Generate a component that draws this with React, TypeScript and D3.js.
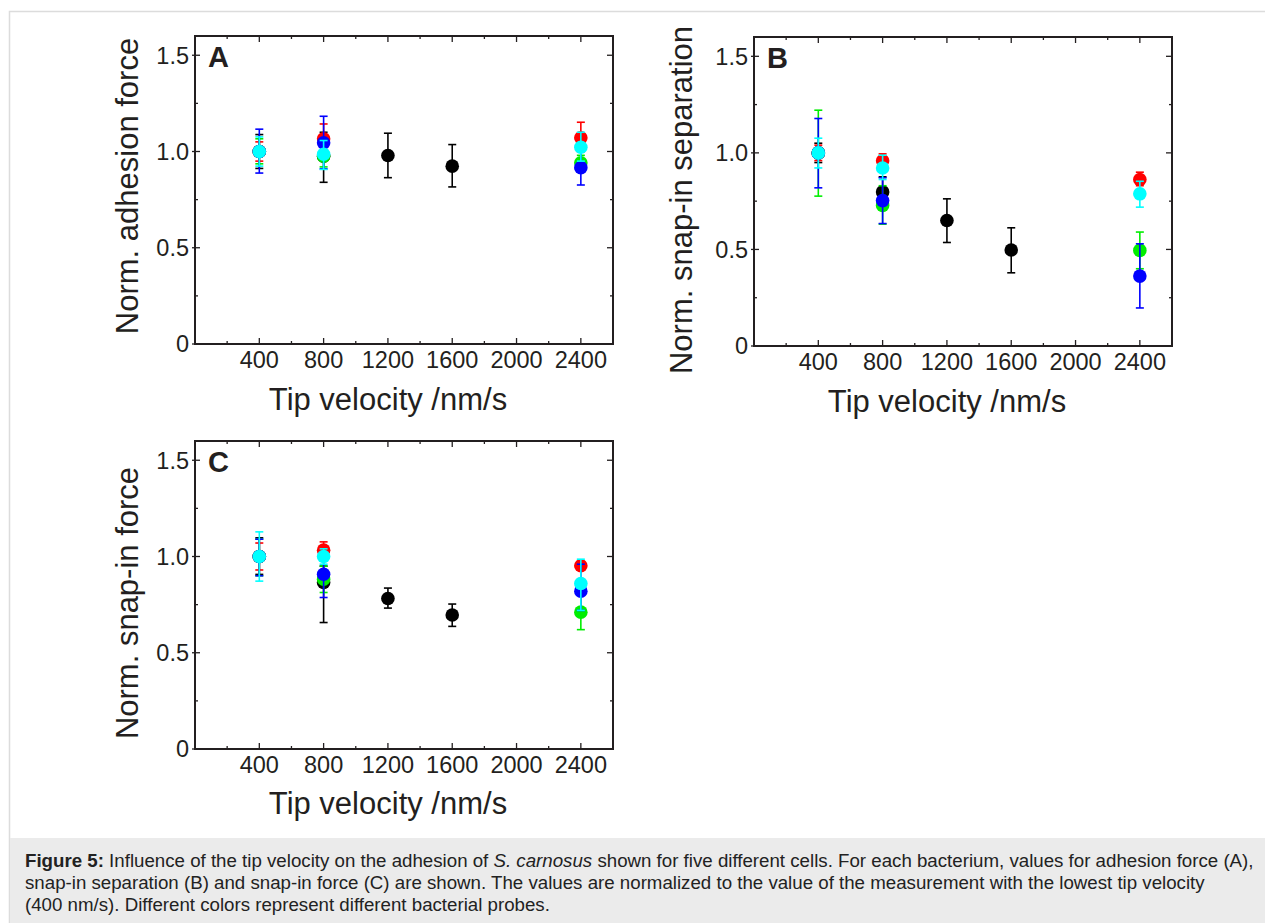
import React from "react";
import * as d3 from "d3";

type Pt = { v: number; y: number; lo: number; hi: number };

// ---------- data ----------
const xTicksMajor = [400, 800, 1200, 1600, 2000, 2400];
const xTicksMinor = [200, 600, 1000, 1400, 1800, 2200];
const yTicksMajor = [0, 0.5, 1.0, 1.5];
const yTicksMinor = [0.25, 0.75, 1.25];
const yTickLabels = ["0", "0.5", "1.0", "1.5"];

const seriesColors = ["#000000", "#00ee00", "#ff0000", "#0000ff", "#00ffff"];

// Panel A: adhesion force
const adhesionBlack: Pt[] = [
  { v: 400, y: 1.0, lo: 0.912, hi: 1.088 },
  { v: 800, y: 0.975, lo: 0.84, hi: 1.1 },
  { v: 1200, y: 0.979, lo: 0.864, hi: 1.095 },
  { v: 1600, y: 0.924, lo: 0.816, hi: 1.036 },
];
const adhesionGreen: Pt[] = [
  { v: 400, y: 1.0, lo: 0.936, hi: 1.066 },
  { v: 800, y: 0.976, lo: 0.92, hi: 1.03 },
  { v: 2400, y: 0.941, lo: 0.9, hi: 0.98 },
];
const adhesionRed: Pt[] = [
  { v: 400, y: 1.0, lo: 0.95, hi: 1.05 },
  { v: 800, y: 1.066, lo: 0.99, hi: 1.143 },
  { v: 2400, y: 1.071, lo: 1.0, hi: 1.152 },
];
const adhesionBlue: Pt[] = [
  { v: 400, y: 1.0, lo: 0.888, hi: 1.116 },
  { v: 800, y: 1.045, lo: 0.91, hi: 1.183 },
  { v: 2400, y: 0.916, lo: 0.826, hi: 1.0 },
];
const adhesionCyan: Pt[] = [
  { v: 400, y: 1.0, lo: 0.924, hi: 1.076 },
  { v: 800, y: 0.986, lo: 0.907, hi: 1.057 },
  { v: 2400, y: 1.022, lo: 0.95, hi: 1.1 },
];

// Panel B: snap-in separation
const separationBlack: Pt[] = [
  { v: 400, y: 1.0, lo: 0.95, hi: 1.05 },
  { v: 800, y: 0.798, lo: 0.72, hi: 0.876 },
  { v: 1200, y: 0.65, lo: 0.536, hi: 0.762 },
  { v: 1600, y: 0.497, lo: 0.379, hi: 0.612 },
];
const separationGreen: Pt[] = [
  { v: 400, y: 1.0, lo: 0.776, hi: 1.221 },
  { v: 800, y: 0.728, lo: 0.631, hi: 0.83 },
  { v: 2400, y: 0.495, lo: 0.4, hi: 0.59 },
];
const separationRed: Pt[] = [
  { v: 400, y: 1.0, lo: 0.96, hi: 1.04 },
  { v: 800, y: 0.959, lo: 0.92, hi: 0.995 },
  { v: 2400, y: 0.862, lo: 0.83, hi: 0.9 },
];
const separationBlue: Pt[] = [
  { v: 400, y: 1.0, lo: 0.819, hi: 1.178 },
  { v: 800, y: 0.753, lo: 0.634, hi: 0.871 },
  { v: 2400, y: 0.362, lo: 0.197, hi: 0.529 },
];
const separationCyan: Pt[] = [
  { v: 400, y: 1.0, lo: 0.922, hi: 1.076 },
  { v: 800, y: 0.922, lo: 0.862, hi: 0.988 },
  { v: 2400, y: 0.788, lo: 0.719, hi: 0.853 },
];

// Panel C: snap-in force
const snapForceBlack: Pt[] = [
  { v: 400, y: 1.0, lo: 0.907, hi: 1.097 },
  { v: 800, y: 0.865, lo: 0.657, hi: 0.95 },
  { v: 1200, y: 0.782, lo: 0.732, hi: 0.836 },
  { v: 1600, y: 0.696, lo: 0.637, hi: 0.753 },
];
const snapForceGreen: Pt[] = [
  { v: 400, y: 1.0, lo: 0.9, hi: 1.09 },
  { v: 800, y: 0.882, lo: 0.813, hi: 0.95 },
  { v: 2400, y: 0.711, lo: 0.62, hi: 0.8 },
];
const snapForceRed: Pt[] = [
  { v: 400, y: 1.0, lo: 0.93, hi: 1.07 },
  { v: 800, y: 1.033, lo: 0.99, hi: 1.076 },
  { v: 2400, y: 0.952, lo: 0.93, hi: 0.975 },
];
const snapForceBlue: Pt[] = [
  { v: 400, y: 1.0, lo: 0.9, hi: 1.09 },
  { v: 800, y: 0.908, lo: 0.787, hi: 0.98 },
  { v: 2400, y: 0.82, lo: 0.72, hi: 0.96 },
];
const snapForceCyan: Pt[] = [
  { v: 400, y: 1.0, lo: 0.872, hi: 1.128 },
  { v: 800, y: 1.0, lo: 0.96, hi: 1.04 },
  { v: 2400, y: 0.86, lo: 0.72, hi: 0.986 },
];

const FONT = "Arial, 'Liberation Sans', Helvetica, sans-serif";
const AXIS = "#231f20";

type PanelProps = {
  left: number;
  top: number;
  width: number;
  height: number;
  letter: string;
  yTitle: string;
  yTitleX: number;
  yTitleY: number;
  xTitleX: number;
  xTitleY: number;
  series: Pt[][];
};

function Panel(p: PanelProps) {
  const x = d3.scaleLinear().domain([0, 2600]).range([p.left, p.left + p.width]);
  const y = d3.scaleLinear().domain([0, 1.6]).range([p.top + p.height, p.top]);
  const bottom = p.top + p.height;
  const right = p.left + p.width;
  const capW = 4;
  return (
    <g>
      {xTicksMajor.map((t) => (
        <g key={"xM" + t}>
          <line x1={x(t)} x2={x(t)} y1={bottom} y2={bottom - 6} stroke={AXIS} strokeWidth={1.3} />
          <line x1={x(t)} x2={x(t)} y1={p.top} y2={p.top + 6} stroke={AXIS} strokeWidth={1.3} />
          <text x={x(t)} y={bottom + 24} textAnchor="middle" fontFamily={FONT} fontSize={23.5} fill={AXIS}>
            {t}
          </text>
        </g>
      ))}
      {xTicksMinor.map((t) => (
        <g key={"xm" + t}>
          <line x1={x(t)} x2={x(t)} y1={bottom} y2={bottom - 3} stroke={AXIS} strokeWidth={1.3} />
          <line x1={x(t)} x2={x(t)} y1={p.top} y2={p.top + 3} stroke={AXIS} strokeWidth={1.3} />
        </g>
      ))}
      {yTicksMajor.map((t, i) => (
        <g key={"yM" + t}>
          <line x1={p.left - 3} x2={p.left + 5} y1={y(t)} y2={y(t)} stroke={AXIS} strokeWidth={1.3} />
          <line x1={right} x2={right - 6} y1={y(t)} y2={y(t)} stroke={AXIS} strokeWidth={1.3} />
          <text x={p.left - 6} y={y(t) + 8.3} textAnchor="end" fontFamily={FONT} fontSize={23.5} fill={AXIS}>
            {yTickLabels[i]}
          </text>
        </g>
      ))}
      {yTicksMinor.map((t) => (
        <g key={"ym" + t}>
          <line x1={p.left} x2={p.left + 3} y1={y(t)} y2={y(t)} stroke={AXIS} strokeWidth={1.3} />
          <line x1={right} x2={right - 3} y1={y(t)} y2={y(t)} stroke={AXIS} strokeWidth={1.3} />
        </g>
      ))}
      <rect x={p.left} y={p.top} width={p.width} height={p.height} fill="none" stroke={AXIS} strokeWidth={2} />
      <text x={p.left + 13} y={p.top + 31} fontFamily={FONT} fontWeight="bold" fontSize={29} fill={AXIS}>
        {p.letter}
      </text>
      {p.series.map((s, si) => (
        <g key={"s" + si}>
          {s.map((d) => (
            <g key={"e" + d.v}>
              <line x1={x(d.v)} x2={x(d.v)} y1={y(d.lo)} y2={y(d.hi)} stroke={seriesColors[si]} strokeWidth={1.6} />
              <line x1={x(d.v) - capW} x2={x(d.v) + capW} y1={y(d.lo)} y2={y(d.lo)} stroke={seriesColors[si]} strokeWidth={1.6} />
              <line x1={x(d.v) - capW} x2={x(d.v) + capW} y1={y(d.hi)} y2={y(d.hi)} stroke={seriesColors[si]} strokeWidth={1.6} />
            </g>
          ))}
          {s.map((d) => (
            <circle key={"c" + d.v} cx={x(d.v)} cy={y(d.y)} r={6.8} fill={seriesColors[si]} />
          ))}
        </g>
      ))}
      <text x={p.xTitleX} y={p.xTitleY} textAnchor="middle" fontFamily={FONT} fontSize={31} fill={AXIS}>
        Tip velocity /nm/s
      </text>
      <text
        transform={`translate(${p.yTitleX},${p.yTitleY}) rotate(-90)`}
        textAnchor="middle"
        fontFamily={FONT}
        fontSize={31}
        fill={AXIS}
      >
        {p.yTitle}
      </text>
    </g>
  );
}

export default function App() {
  return (
    <div style={{ position: "absolute", left: 0, top: 0 }}>
      <svg width={1265} height={923} style={{ display: "block" }}>
        <rect x={0} y={0} width={1265} height={923} fill="#ffffff" />
        <rect x={9.5} y={11.5} width={1270} height={930} fill="none" stroke="#dcdcdc" strokeWidth={1.5} />
        <rect x={10} y={838} width={1255} height={85} fill="#ebebeb" />
        <Panel
          left={195}
          top={36}
          width={418}
          height={308}
          letter="A"
          yTitle="Norm. adhesion force"
          yTitleX={138}
          yTitleY={186}
          xTitleX={388}
          xTitleY={410}
          series={[adhesionBlack, adhesionGreen, adhesionRed, adhesionBlue, adhesionCyan]}
        />
        <Panel
          left={754}
          top={37}
          width={418}
          height={309}
          letter="B"
          yTitle="Norm. snap-in separation"
          yTitleX={692}
          yTitleY={200}
          xTitleX={947}
          xTitleY={412}
          series={[separationBlack, separationGreen, separationRed, separationBlue, separationCyan]}
        />
        <Panel
          left={195}
          top={441}
          width={418}
          height={308}
          letter="C"
          yTitle="Norm. snap-in force"
          yTitleX={138}
          yTitleY={603}
          xTitleX={388}
          xTitleY={814}
          series={[snapForceBlack, snapForceGreen, snapForceRed, snapForceBlue, snapForceCyan]}
        />
        <text x={25} y={867} fontFamily={FONT} fontSize={18.7} fill="#222">
          <tspan fontWeight="bold">Figure 5:</tspan>
          <tspan> Influence of the tip velocity on the adhesion of </tspan>
          <tspan fontStyle="italic">S. carnosus</tspan>
          <tspan> shown for five different cells. For each bacterium, values for adhesion force (A),</tspan>
        </text>
        <text x={25} y={889} fontFamily={FONT} fontSize={18.7} fill="#222">
          snap-in separation (B) and snap-in force (C) are shown. The values are normalized to the value of the measurement with the lowest tip velocity
        </text>
        <text x={25} y={911} fontFamily={FONT} fontSize={18.7} fill="#222">
          (400 nm/s). Different colors represent different bacterial probes.
        </text>
      </svg>
    </div>
  );
}
